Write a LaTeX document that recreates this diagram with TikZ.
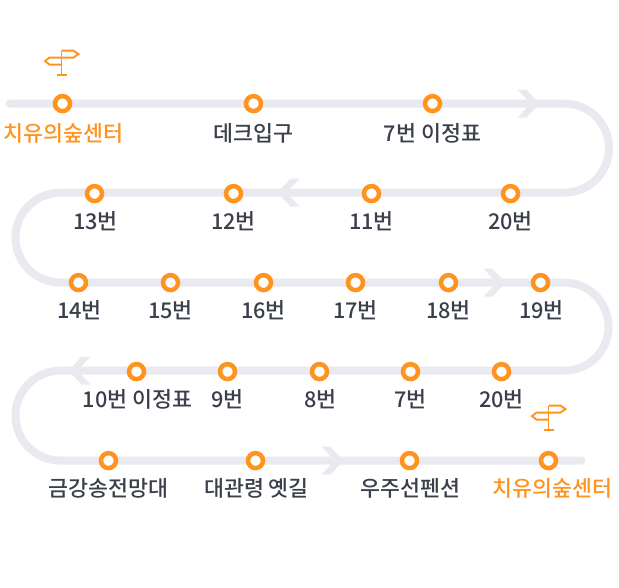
\documentclass[tikz,border=0pt]{standalone}
\usepackage{fontspec}
\setmainfont{Noto Sans CJK KR}[UprightFont={* Medium}]
\definecolor{trk}{HTML}{E9EAF0}
\definecolor{org}{HTML}{FF931E}
\definecolor{ink}{HTML}{3A3F4B}
\tikzset{
  track/.style={draw=trk,line width=8pt,line cap=round},
  chev/.style={fill=trk,draw=none},
  stop/.style={circle,draw=org,fill=white,line width=4.5pt,minimum size=15pt,inner sep=0pt},
  lbl/.style={text=ink,font=\fontsize{21.7}{26}\selectfont,inner sep=0pt,anchor=center},
  olbl/.style={text=org,font=\fontsize{21.7}{26}\selectfont,inner sep=0pt,anchor=center},
  sign/.style={draw=org,line width=1.9pt,line join=miter}
}
\newcommand{\signpost}[2]{%
  \begin{scope}[shift={(#1,#2)}]
    \draw[sign] (0,-14) -- (0,10) (-5,10) -- (5,10);
    \draw[sign] (0,-14) -- (12,-14) -- (17,-10.5) -- (12,-7) -- (0,-7);
    \draw[sign] (0,-7) -- (-12,-7) -- (-16.5,-3.5) -- (-12,0) -- (0,0);
  \end{scope}}
\newcommand{\chevron}[3]{% tip x, y, direction (1 right, -1 left)
  \fill[chev,shift={(#1,#2)},xscale=#3] (-22,-14) -- (-13,-14) -- (0,0) -- (-13,14) -- (-22,14) -- (-9,0) -- cycle;}
\begin{document}
\begin{tikzpicture}[x=1pt,y=-1pt]
\useasboundingbox (0,0) rectangle (619,587);
\fill[white] (0,0) rectangle (619,587);
\begin{scope}[shift={(0.5,0.6)}]
\coordinate (start) at (9,103);
\coordinate (finish) at (581,460);
\draw[track] (start) -- (564,103) arc[start angle=-90,end angle=90,radius=44.5] -- (60,192)
  arc[start angle=-90,end angle=-270,radius=45] -- (564,282)
  arc[start angle=-90,end angle=90,radius=44] -- (60,370)
  arc[start angle=-90,end angle=-270,radius=45] -- (finish);
\chevron{539}{103}{1}
\chevron{277}{192}{-1}
\chevron{505}{282}{1}
\chevron{68}{370}{-1}
\chevron{343}{460}{1}
\signpost{61}{64}
\signpost{548}{419}
\foreach \n/\x/\y in {
  a/62/103, b/253/103, c/432/103,
  d/510/193, e/371/193, f/233/193, g/94/193,
  h/78/282, i/170/282, j/263/282, k/355/282, l/448/282, m/540/282,
  n/501/371, o/410/371, p/319/371, q/227/371, r/136/371,
  s/108/460, t/255/460, u/409/460, v/548/460}{
  \node[stop] (\n) at (\x,\y) {};
}
\node[olbl] at (63,133) {치유의숲센터};
\node[lbl] at (253,133) {데크입구};
\node[lbl] at (432,133) {7번 이정표};
\node[lbl] at (510,221) {20번};
\node[lbl] at (371,221) {11번};
\node[lbl] at (233,221) {12번};
\node[lbl] at (95,221) {13번};
\node[lbl] at (79,310) {14번};
\node[lbl] at (170,310) {15번};
\node[lbl] at (263,310) {16번};
\node[lbl] at (355,310) {17번};
\node[lbl] at (448,310) {18번};
\node[lbl] at (541,310) {19번};
\node[lbl] at (501,399) {20번};
\node[lbl] at (410,399) {7번};
\node[lbl] at (320,399) {8번};
\node[lbl] at (227,399) {9번};
\node[lbl] at (137,399) {10번 이정표};
\node[lbl] at (108,488) {금강송전망대};
\node[lbl] at (256,488) {대관령 옛길};
\node[lbl] at (410,488) {우주선펜션};
\node[olbl] at (552,488) {치유의숲센터};
\end{scope}
\end{tikzpicture}
\end{document}
